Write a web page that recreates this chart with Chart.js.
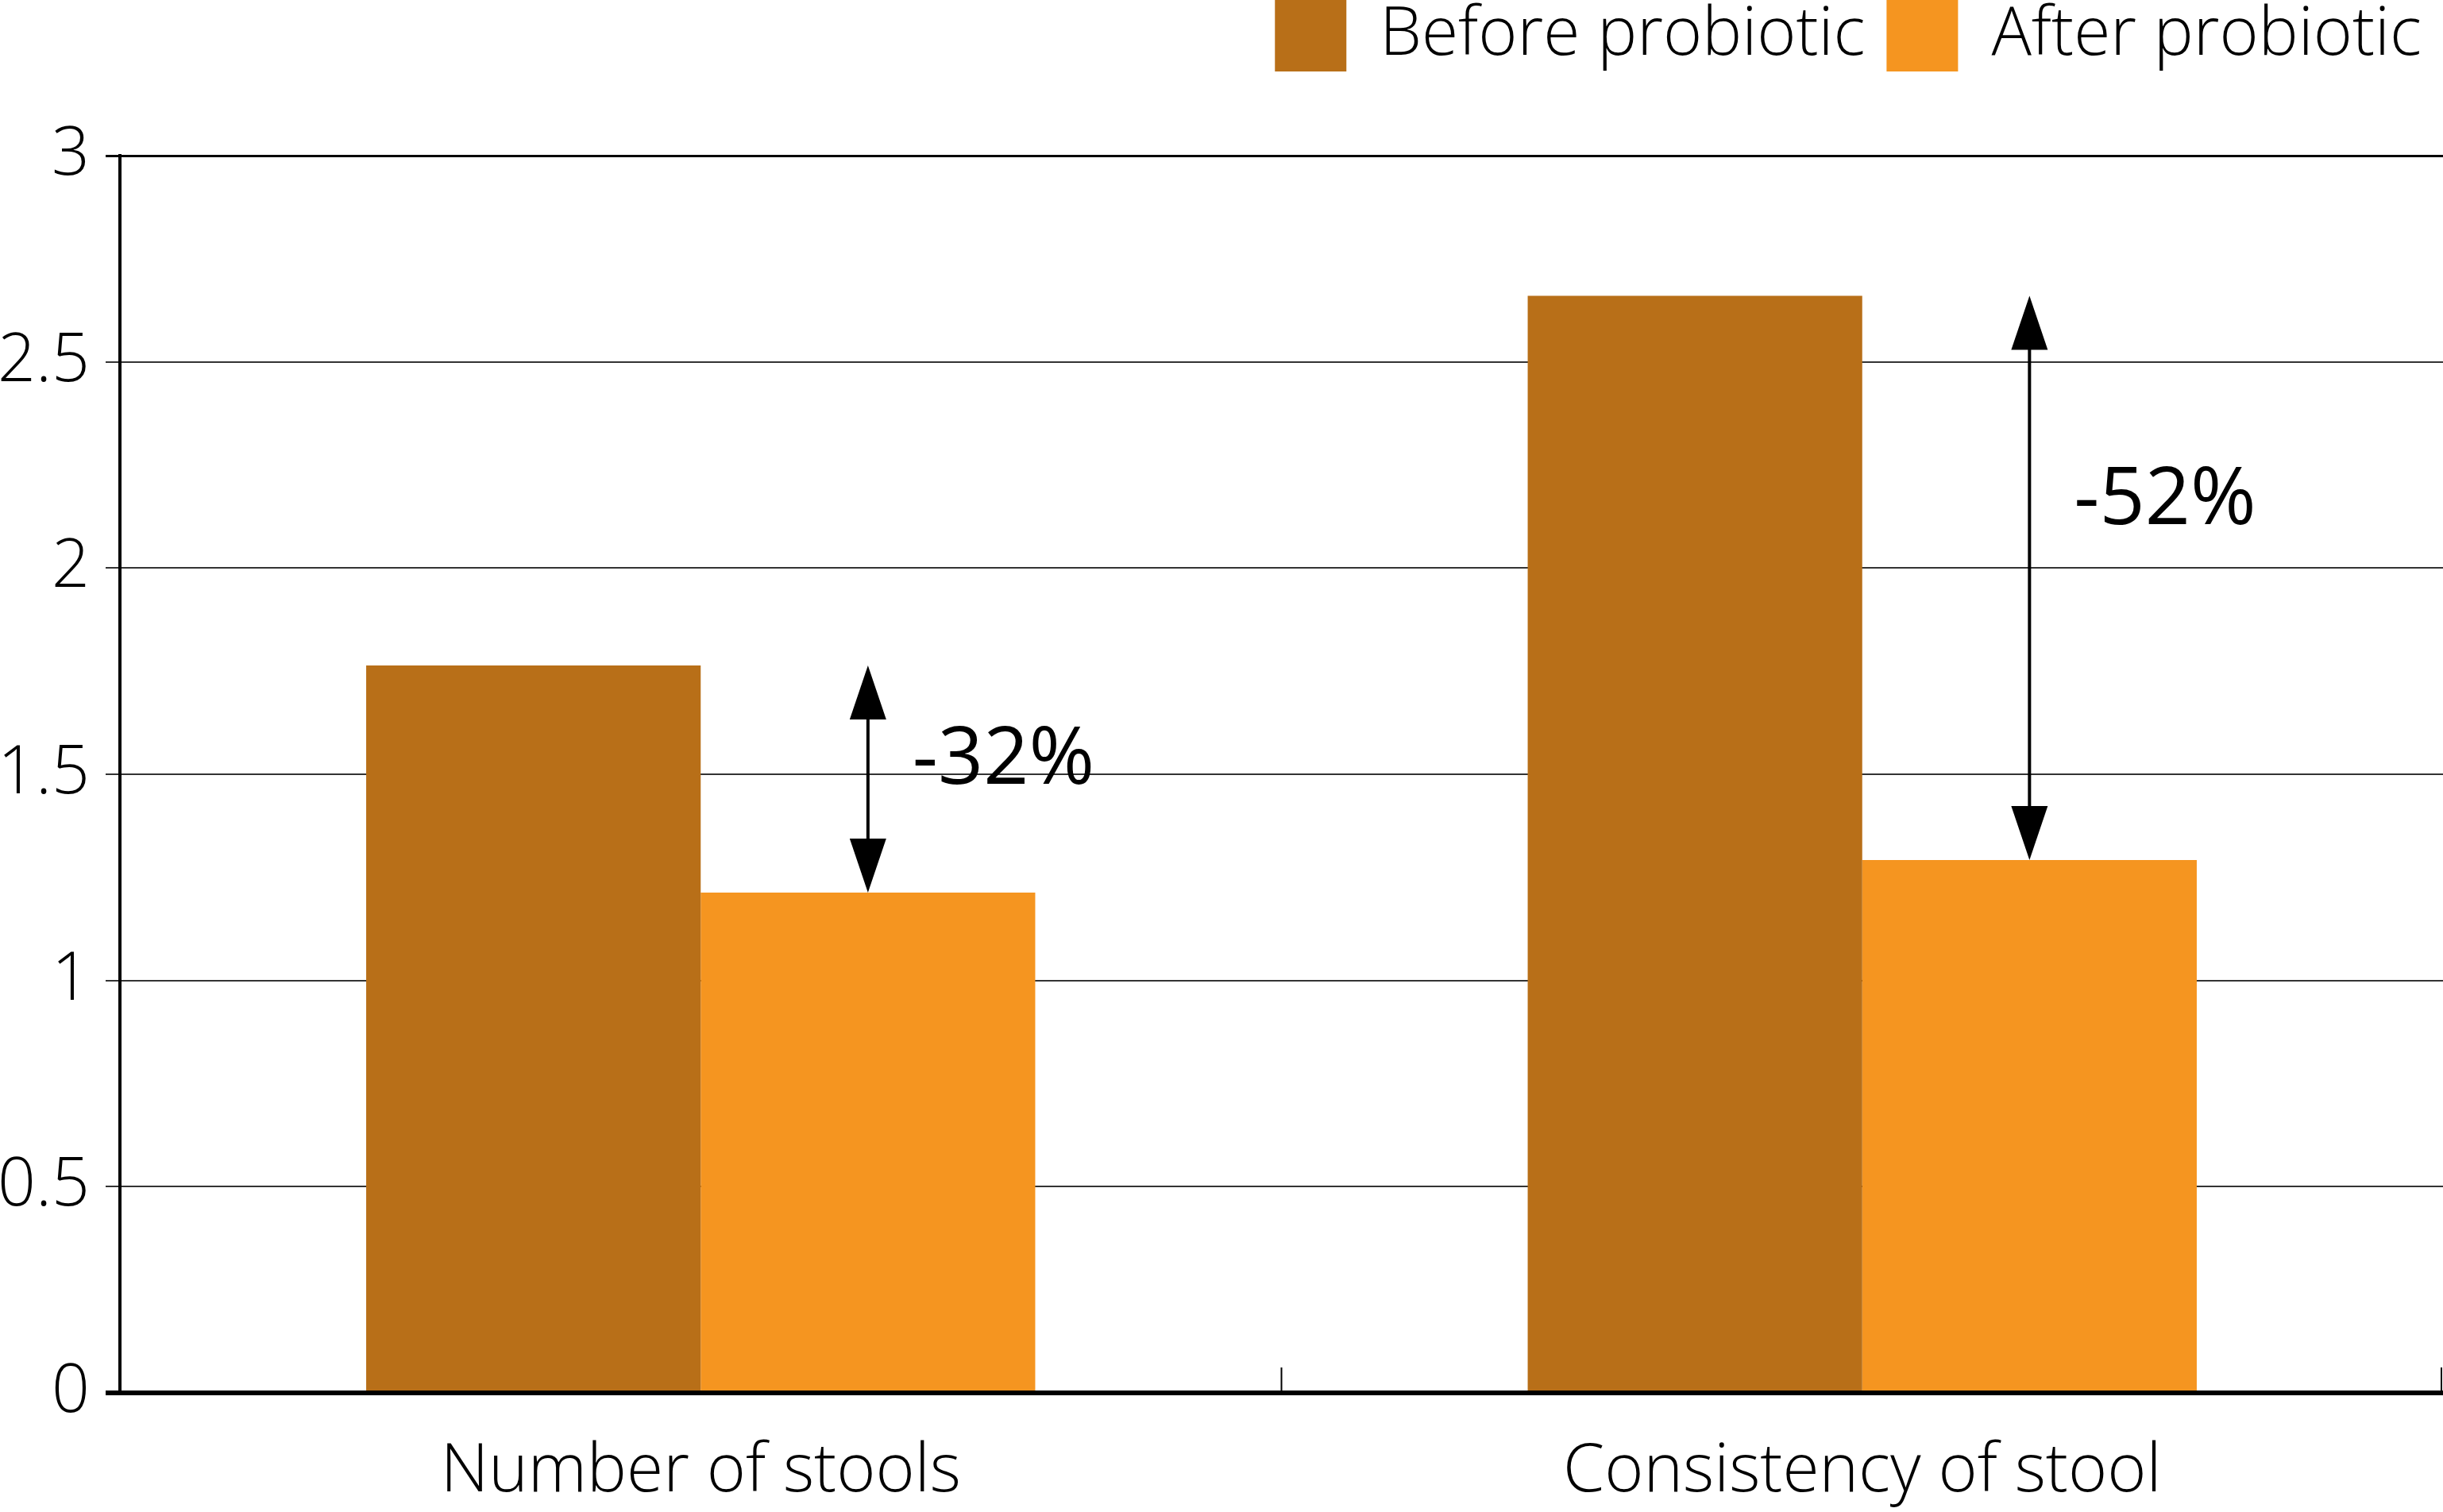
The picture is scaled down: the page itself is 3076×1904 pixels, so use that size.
<!DOCTYPE html>
<html><head><meta charset="utf-8">
<script src="https://cdn.jsdelivr.net/npm/chart.js@4.4.1/dist/chart.umd.min.js"></script>
<style>html,body{margin:0;padding:0;background:#fff;} #wrap{width:3076px;height:1904px;}</style>
</head><body><div id="wrap"><canvas id="c" width="3076" height="1904"></canvas></div>
<script>
const categories = ['Number of stools', 'Consistency of stool'];
const seriesNames = ['Before probiotic', 'After probiotic'];
const beforeValues = [1.764, 2.66];
const afterValues = [1.213, 1.292];
const changeLabels = ['-32%', '-52%'];
const changeLabelFraction = [0.42, 0.365];
const yMin = 0, yMax = 3, yStep = 0.5;

const FONT = '"Open Sans", "Noto Sans", sans-serif';
const beforeColor = '#B86F18';
const afterColor = '#F59520';
const LEGEND_PAD = 27;

const changeArrows = {
  id: 'changeArrows',
  afterLayout(chart) {
    const l = chart.legend;
    if (l) {
      const h = l.bottom - l.top;
      l.top = -LEGEND_PAD;
      l.bottom = l.top + h;
    }
  },
  afterDatasetsDraw(chart) {
    const ctx = chart.ctx;
    const ys = chart.scales.y;
    const xs = chart.scales.x;
    const meta = chart.getDatasetMeta(1);
    ctx.save();
    // category boundary ticks on the x axis (pointing up)
    const n = categories.length;
    ctx.strokeStyle = '#000';
    ctx.lineWidth = 2;
    for (let i = 1; i <= n; i++) {
      const bx = xs.left + (xs.right - xs.left) * i / n - (i === n ? 2 : 0);
      ctx.beginPath();
      ctx.moveTo(bx, xs.top);
      ctx.lineTo(bx, xs.top - 32);
      ctx.stroke();
    }
    for (let i = 0; i < n; i++) {
      const x = meta.data[i].x;
      const yTop = ys.getPixelForValue(beforeValues[i]);
      const yBot = ys.getPixelForValue(afterValues[i]);
      const hw = 23, hh = 68;
      ctx.fillStyle = '#000';
      ctx.strokeStyle = '#000';
      ctx.lineWidth = 4;
      ctx.beginPath();
      ctx.moveTo(x, yTop + hh - 2);
      ctx.lineTo(x, yBot - hh + 2);
      ctx.stroke();
      ctx.beginPath();
      ctx.moveTo(x, yTop);
      ctx.lineTo(x - hw, yTop + hh);
      ctx.lineTo(x + hw, yTop + hh);
      ctx.closePath();
      ctx.fill();
      ctx.beginPath();
      ctx.moveTo(x, yBot);
      ctx.lineTo(x - hw, yBot - hh);
      ctx.lineTo(x + hw, yBot - hh);
      ctx.closePath();
      ctx.fill();
      ctx.font = '400 100px ' + FONT;
      ctx.textAlign = 'left';
      ctx.textBaseline = 'middle';
      ctx.fillText(changeLabels[i], x + 56, yTop + changeLabelFraction[i] * (yBot - yTop));
    }
    ctx.restore();
  }
};

new Chart(document.getElementById('c'), {
  type: 'bar',
  data: {
    labels: categories,
    datasets: [
      { label: seriesNames[0], data: beforeValues, backgroundColor: beforeColor },
      { label: seriesNames[1], data: afterValues, backgroundColor: afterColor }
    ]
  },
  options: {
    responsive: false,
    devicePixelRatio: 1,
    animation: false,
    layout: { padding: { top: 0, right: 0, bottom: 0, left: 0 } },
    datasets: { bar: { categoryPercentage: 0.576, barPercentage: 1, borderWidth: 0 } },
    plugins: {
      tooltip: { enabled: false },
      legend: {
        position: 'top',
        align: 'end',
        labels: {
          boxWidth: 90, boxHeight: 90, padding: LEGEND_PAD,
          color: '#000',
          font: { family: FONT, size: 84, weight: '300' }
        }
      }
    },
    scales: {
      x: {
        afterFit(scale) { scale.height = 150; },
        grid: { display: false, drawTicks: false },
        border: { display: true, color: '#000', width: 6 },
        ticks: { color: '#000', padding: 50, font: { family: FONT, size: 84, weight: '300' } }
      },
      y: {
        min: yMin, max: yMax,
        afterFit(scale) { scale.paddingTop = 196; scale.width = 151; },
        ticks: {
          stepSize: yStep, color: '#000', padding: 20,
          font: { family: FONT, size: 84, weight: '300' },
          callback: (v) => String(v)
        },
        grid: {
          tickLength: 18,
          color: (c) => (c.tick && (c.tick.value === yMax || c.tick.value === yMin)) ? '#000' : '#333',
          lineWidth: (c) => c.tick && c.tick.value === yMin ? 6 : (c.tick && c.tick.value === yMax ? 3 : 2)
        },
        border: { display: true, color: '#000', width: 4 }
      }
    }
  },
  plugins: [changeArrows]
});
</script></body></html>
